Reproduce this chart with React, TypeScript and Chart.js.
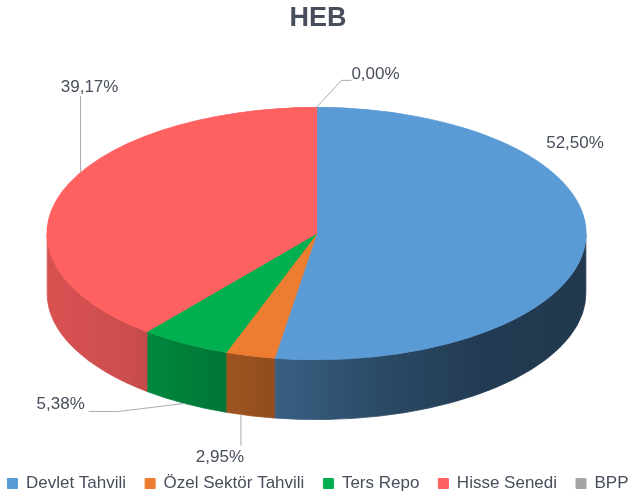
import { useEffect, useRef } from "react";
import { Chart, registerables } from "chart.js";

Chart.register(...registerables);

// ---- data ----
const TITLE = "HEB";
const categories = ["Devlet Tahvili", "Özel Sektör Tahvili", "Ters Repo", "Hisse Senedi", "BPP"];
const values = [52.5, 2.95, 5.38, 39.17, 0.0];
const valueLabels = ["52,50%", "2,95%", "5,38%", "39,17%", "0,00%"];

// ---- styles ----
const colors = ["#5B9BD5", "#ED7D31", "#00B050", "#FF6060", "#A5A5A5"];
const FONT = '"Liberation Sans", Arial, sans-serif';
const TEXT_COLOR = "#474e5b";
const LEADER_COLOR = "#A6AAB2";

// side-wall lighting: factor vs normalized horizontal position u (-1 left .. 1 right)
const SHADE_U = [-1, -0.7, -0.4, -0.18, 0, 0.3, 0.6, 1];
const SHADE_F = [0.85, 0.8, 0.69, 0.62, 0.56, 0.46, 0.39, 0.36];

// ellipse proportions relative to the pie radius computed by Chart.js
const ELL = { rx: 1.312, ry: 0.6147, depth: 0.2915, dy: -0.0811 };

// label placement relative to the slice anchor (mid-angle point on the rim / wall bottom)
const LABEL_LAYOUT: any[] = [
  { dx: -10, dy: -160, leader: null },
  { dx: -30, dy: 42, leader: { kind: "vertical", x: 21, y: -12 } },
  { dx: -124, dy: 1, leader: { kind: "elbow", x: 28, y: 7, run: 30 } },
  { dx: 27, dy: -104, leader: { kind: "vertical", x: -9, y: 8.5 } },
  { dx: 59, dy: -33.5, leader: { kind: "elbow", x: -24, y: 6.5, run: -10 } },
];

function shade(hex: string, f: number) {
  const n = parseInt(hex.slice(1), 16);
  const r = Math.round(((n >> 16) & 255) * f);
  const g = Math.round(((n >> 8) & 255) * f);
  const b = Math.round((n & 255) * f);
  return `rgb(${r},${g},${b})`;
}

function geometry(chart: any) {
  const meta = chart.getDatasetMeta(0);
  const arc: any = meta.data[0];
  const R = arc.outerRadius;
  return {
    ox: arc.x,
    oy: arc.y,
    R,
    cx: arc.x,
    cy: arc.y + ELL.dy * R,
    rx: ELL.rx * R,
    ry: ELL.ry * R,
    depth: ELL.depth * R,
  };
}

const pie3d = {
  id: "pie3d",
  beforeDatasetsDraw(chart: any) {
    const ctx = chart.ctx as CanvasRenderingContext2D;
    const g = geometry(chart);
    const meta = chart.getDatasetMeta(0);
    meta.data.forEach((el: any, i: number) => {
      const { startAngle, endAngle } = el;
      if (endAngle - startAngle <= 0) return;
      const grad = ctx.createLinearGradient(g.cx - g.rx, 0, g.cx + g.rx, 0);
      SHADE_U.forEach((u, k) => grad.addColorStop((u + 1) / 2, shade(colors[i], SHADE_F[k])));
      for (const k of [-2 * Math.PI, 0, 2 * Math.PI]) {
        const lo = Math.max(startAngle, k);
        const hi = Math.min(endAngle, k + Math.PI);
        if (hi <= lo) continue;
        ctx.beginPath();
        ctx.ellipse(g.cx, g.cy, g.rx, g.ry, 0, lo, hi);
        ctx.ellipse(g.cx, g.cy + g.depth, g.rx, g.ry, 0, hi, lo, true);
        ctx.closePath();
        ctx.fillStyle = grad;
        ctx.fill();
        ctx.strokeStyle = grad;
        ctx.lineWidth = 0.8;
        ctx.stroke();
      }
    });
    ctx.save();
    ctx.translate(g.cx, g.cy);
    ctx.scale(g.rx / g.R, g.ry / g.R);
    ctx.translate(-g.ox, -g.oy);
  },
  afterDatasetsDraw(chart: any) {
    chart.ctx.restore();
  },
};

const pieLabels = {
  id: "pieLabels",
  afterDraw(chart: any) {
    const ctx = chart.ctx as CanvasRenderingContext2D;
    const g = geometry(chart);
    const meta = chart.getDatasetMeta(0);
    ctx.save();
    ctx.font = `17px ${FONT}`;
    ctx.fillStyle = TEXT_COLOR;
    ctx.textAlign = "center";
    ctx.textBaseline = "middle";
    ctx.strokeStyle = LEADER_COLOR;
    ctx.lineWidth = 1;
    meta.data.forEach((el: any, i: number) => {
      const mid = (el.startAngle + el.endAngle) / 2;
      const front = Math.sin(mid) > 0;
      const ax = g.cx + g.rx * Math.cos(mid);
      const ay = g.cy + g.ry * Math.sin(mid) + (front ? g.depth : 0);
      const L = LABEL_LAYOUT[i];
      const tx = ax + L.dx;
      const ty = ay + L.dy;
      if (L.leader) {
        const px = tx + L.leader.x;
        const py = ty + L.leader.y;
        ctx.beginPath();
        ctx.moveTo(px, py);
        if (L.leader.kind === "vertical") {
          const u = (px - g.cx) / g.rx;
          const s = Math.sqrt(Math.max(0, 1 - u * u));
          const ey = py < g.cy ? g.cy - g.ry * s : g.cy + g.ry * s + g.depth;
          ctx.lineTo(px, ey);
        } else {
          ctx.lineTo(px + L.leader.run, py);
          ctx.lineTo(ax, ay);
        }
        ctx.stroke();
      }
      ctx.fillText(valueLabels[i], tx, ty);
    });
    ctx.restore();
  },
};

export default function App() {
  const ref = useRef<HTMLCanvasElement>(null);
  useEffect(() => {
    document.body.style.margin = "0";
    const canvas = ref.current!;
    const chart = new Chart(canvas, {
      type: "pie",
      data: {
        labels: categories,
        datasets: [
          {
            data: values,
            backgroundColor: colors,
            borderColor: colors,
            borderWidth: 1,
            clip: false as any,
          } as any,
        ],
      },
      options: {
        animation: false,
        responsive: false,
        events: [],
        layout: { padding: { left: -14, right: -17, top: 0, bottom: -7 } },
        plugins: {
          title: {
            display: true,
            text: TITLE,
            color: TEXT_COLOR,
            font: { family: FONT, size: 27, weight: "bold" },
            padding: { top: 2, bottom: 10 },
          },
          legend: {
            position: "bottom",
            labels: {
              boxWidth: 10,
              boxHeight: 10,
              padding: 19,
              color: TEXT_COLOR,
              font: { family: FONT, size: 17 },
            },
          },
          tooltip: { enabled: false },
        },
      },
      plugins: [pie3d, pieLabels],
    });
    return () => chart.destroy();
  }, []);
  return <canvas ref={ref} width={633} height={495} style={{ display: "block" }} />;
}
